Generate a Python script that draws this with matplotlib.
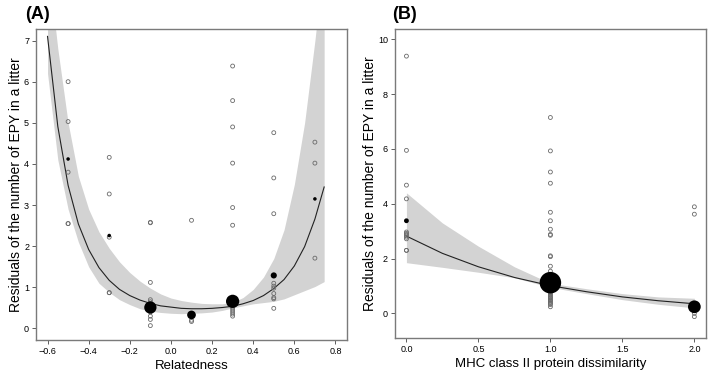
import matplotlib
matplotlib.use("Agg")
import matplotlib.pyplot as plt

plt.rcParams['font.family'] = ['Liberation Sans', 'DejaVu Sans']

# ---- Panel A: relatedness ----
a_x = [-0.5] * 5 + [-0.3] * 5 + [-0.1] * 12 + [0.1] * 4 + [0.3] * 13 + [0.5] * 10 + [0.7] * 3
a_y = [6.0, 5.03, 3.8, 2.55, 2.55,
       4.16, 3.27, 2.22, 0.87, 0.87,
       2.57, 2.58, 1.12, 0.7, 0.65, 0.6, 0.55, 0.45, 0.4, 0.3, 0.22, 0.07,
       2.63, 0.3, 0.2, 0.17,
       6.38, 5.54, 4.9, 4.02, 2.94, 2.51, 0.6, 0.55, 0.5, 0.45, 0.4, 0.35, 0.3,
       4.76, 3.66, 2.79, 1.1, 1.03, 0.98, 0.85, 0.75, 0.72, 0.49,
       4.53, 4.02, 1.71]
a_mean_x = [-0.5, -0.3, -0.1, 0.1, 0.3, 0.5, 0.7]
a_mean_y = [4.12, 2.26, 0.51, 0.33, 0.66, 1.29, 3.15]
a_mean_n = [1, 1, 12, 6, 14, 3, 1]

a_fit_x = [-0.6, -0.55, -0.5, -0.45, -0.4, -0.35, -0.3, -0.25, -0.2, -0.15, -0.1,
           -0.05, 0.0, 0.05, 0.1, 0.15, 0.2, 0.25, 0.3, 0.35, 0.4, 0.45, 0.5,
           0.55, 0.6, 0.65, 0.7, 0.745]
a_fit_y = [7.1, 4.91, 3.48, 2.54, 1.92, 1.48, 1.17, 0.95, 0.8, 0.69, 0.61,
           0.55, 0.52, 0.49, 0.48, 0.48, 0.49, 0.51, 0.54, 0.6, 0.68, 0.8, 0.97,
           1.19, 1.52, 1.99, 2.66, 3.44]
a_low = [6.2, 4.1, 2.9, 2.1, 1.5, 1.1, 0.88, 0.7, 0.58, 0.48, 0.42,
         0.39, 0.37, 0.36, 0.37, 0.38, 0.4, 0.44, 0.5, 0.55, 0.6, 0.63, 0.66,
         0.72, 0.82, 0.92, 1.02, 1.14]
a_high = [9.0, 6.8, 5.0, 3.7, 2.9, 2.35, 1.95, 1.62, 1.36, 1.15, 0.98,
          0.84, 0.74, 0.68, 0.64, 0.61, 0.6, 0.6, 0.64, 0.75, 0.95, 1.25, 1.7,
          2.4, 3.5, 5.0, 7.0, 9.0]

# ---- Panel B: MHC class II protein dissimilarity ----
b_x = [0] * 12 + [1] * 33 + [2] * 7
b_y = [9.39, 5.95, 4.68, 4.18, 2.97, 2.92, 2.88, 2.83, 2.78, 2.72, 2.3, 2.3,
       7.15, 5.93, 5.16, 4.75, 3.69, 3.38, 3.07, 2.88, 2.85, 2.1, 2.07, 1.72, 1.54,
       1.35, 1.2, 1.0, 0.95, 0.9, 0.85, 0.8, 0.75, 0.7, 0.66, 0.62, 0.58, 0.55,
       0.5, 0.48, 0.44, 0.4, 0.36, 0.32, 0.24,
       3.89, 3.62, 0.3, 0.2, 0.1, 0.0, -0.12]
b_mean_x = [0, 1, 2]
b_mean_y = [3.38, 1.12, 0.24]
b_mean_n = [2, 40, 14]

b_fit_x = [0.0, 0.25, 0.5, 0.75, 1.0, 1.25, 1.5, 1.75, 2.0]
b_fit_y = [2.82, 2.19, 1.7, 1.31, 1.01, 0.79, 0.6, 0.46, 0.35]
b_low = [1.85, 1.68, 1.5, 1.3, 0.95, 0.72, 0.5, 0.33, 0.2]
b_high = [4.4, 3.3, 2.45, 1.7, 1.1, 0.9, 0.72, 0.6, 0.55]

fig = plt.figure(figsize=(7.09, 3.72), dpi=100)
axA = fig.add_axes([0.0508, 0.086, 0.4386, 0.836])
axB = fig.add_axes([0.557, 0.0914, 0.4386, 0.8306])

def draw(ax, fx, lo, hi, fy, px, py, mx, my, mn, scale):
    ax.fill_between(fx, lo, hi, color='#d3d3d3', lw=0, zorder=1)
    ax.plot(fx, fy, color='#222222', lw=0.8, zorder=2)
    ax.scatter(px, py, s=8, facecolor='none', edgecolor='#6a6a6a', lw=0.6, zorder=3)
    ax.scatter(mx, my, s=[n * scale for n in mn], color='black', lw=0, zorder=4)
    for s in ax.spines.values():
        s.set_color('#7a7a7a')
        s.set_linewidth(1.0)
    ax.tick_params(labelsize=6.5, length=3, width=0.6, color='#444444', pad=2)

draw(axA, a_fit_x, a_low, a_high, a_fit_y, a_x, a_y,
     a_mean_x, a_mean_y, a_mean_n, 6.5)
axA.set_xlim(-0.656, 0.856)
axA.set_ylim(-0.28, 7.28)
axA.set_xticks([-0.6, -0.4, -0.2, 0.0, 0.2, 0.4, 0.6, 0.8])
axA.set_yticks(range(0, 8))
axA.set_xlabel('Relatedness', fontsize=9.5, labelpad=3)
axA.set_ylabel('Residuals of the number of EPY in a litter', fontsize=10, labelpad=1)
axA.set_title('(A)', fontsize=13, fontweight='bold', loc='left', x=-0.035, pad=7)

draw(axB, b_fit_x, b_low, b_high, b_fit_y, b_x, b_y,
     b_mean_x, b_mean_y, b_mean_n, 6.0)
axB.set_xlim(-0.08, 2.08)
axB.set_ylim(-0.9, 10.38)
axB.set_xticks([0.0, 0.5, 1.0, 1.5, 2.0])
axB.set_yticks([0, 2, 4, 6, 8, 10])
axB.set_xlabel('MHC class II protein dissimilarity', fontsize=9.5, labelpad=3)
axB.set_ylabel('Residuals of the number of EPY in a litter', fontsize=10, labelpad=1)
axB.set_title('(B)', fontsize=13, fontweight='bold', loc='left', x=-0.01, pad=7)

fig.savefig('out.png', dpi=100)
